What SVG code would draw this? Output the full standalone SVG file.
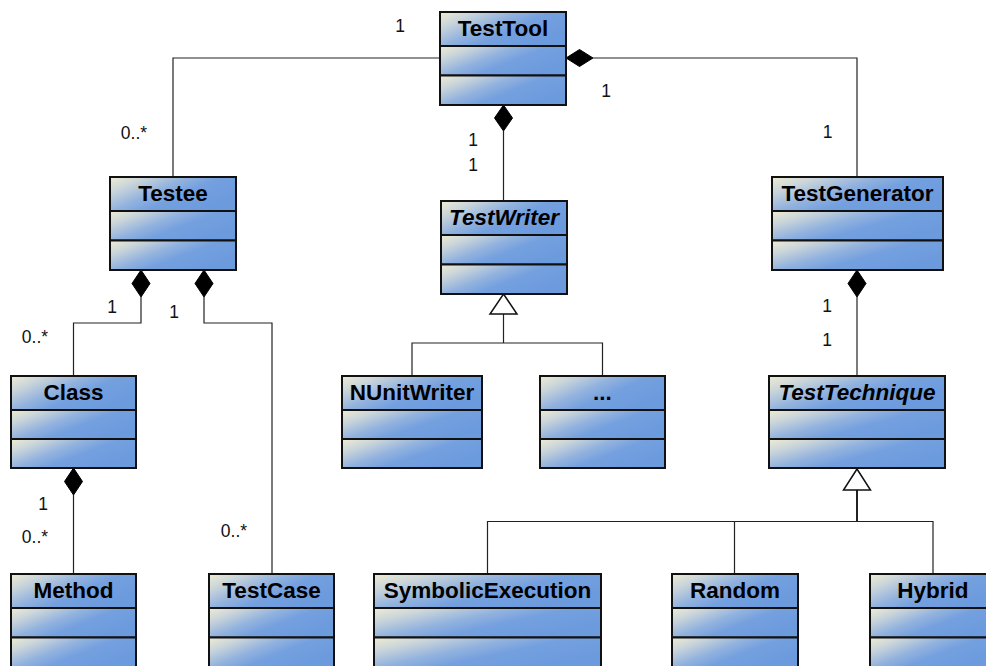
<svg xmlns="http://www.w3.org/2000/svg" width="986" height="666" viewBox="0 0 986 666">
  <defs>
    <linearGradient id="fill" x1="0" y1="0" x2="1" y2="0.6">
      <stop offset="0" stop-color="#eeecd2"/>
      <stop offset="0.2" stop-color="#ccd6da"/>
      <stop offset="0.45" stop-color="#93b3de"/>
      <stop offset="0.65" stop-color="#74a0df"/>
      <stop offset="1" stop-color="#6b9add"/>
    </linearGradient>
  </defs>
  <style>
    .cmp { fill: url(#fill); stroke: #111; stroke-width: 2; }
    .title { font-family: "Liberation Sans", Arial, sans-serif; font-size: 22.5px; font-weight: bold; fill: #000; text-anchor: middle; }
    .abstract { font-style: italic; }
    .mult { font-family: "Liberation Sans", Arial, sans-serif; font-size: 17.5px; fill: #111; text-anchor: middle; }
    .line { fill: none; stroke: #222; stroke-width: 1.2; }
    .thick { stroke-width: 2; }
    .diamond { fill: #000; stroke: #000; stroke-width: 1; }
    .triangle { fill: #fff; stroke: #111; stroke-width: 1.5; }
  </style>
  <rect width="986" height="666" fill="#fff"/>

  <!-- connectors -->
  <g id="connectors">
    <!-- TestTool - Testee association -->
    <polyline class="line" points="440,58 173,58 173,177"/>
    <!-- TestTool composes TestGenerator -->
    <polyline class="line" points="593,58 857,58 857,177"/>
    <polygon class="diamond" points="566,58 579.5,49.5 593,58 579.5,66.5"/>
    <!-- TestTool composes TestWriter -->
    <line class="line" x1="503.5" y1="131" x2="503.5" y2="201"/>
    <polygon class="diamond" points="503.5,105 512.5,118 503.5,131 494.5,118"/>
    <!-- Testee composes Class -->
    <polyline class="line" points="141,297 141,323 73.5,323 73.5,376"/>
    <polygon class="diamond" points="141,270 150,283.5 141,297 132,283.5"/>
    <!-- Testee composes TestCase -->
    <polyline class="line" points="204,297 204,323 272,323 272,574"/>
    <polygon class="diamond" points="204,270 213,283.5 204,297 195,283.5"/>
    <!-- Class composes Method -->
    <line class="line" x1="73.5" y1="495" x2="73.5" y2="574"/>
    <polygon class="diamond" points="73.5,468 82.5,481.5 73.5,495 64.5,481.5"/>
    <!-- TestGenerator composes TestTechnique -->
    <line class="line" x1="857" y1="297" x2="857" y2="376"/>
    <polygon class="diamond" points="857,270 866,283.5 857,297 848,283.5"/>
    <!-- TestWriter generalization -->
    <line class="line" x1="503.5" y1="314" x2="503.5" y2="343"/>
    <polyline class="line" points="412,376 412,343 602.5,343 602.5,376"/>
    <polygon class="triangle" points="503.5,294 517,314 490,314"/>
    <!-- TestTechnique generalization -->
    <line class="line thick" x1="857" y1="490" x2="857" y2="521.5"/>
    <polyline class="line" points="487.5,574 487.5,521.5 933,521.5 933,574"/>
    <line class="line" x1="734.5" y1="521.5" x2="734.5" y2="574"/>
    <polygon class="triangle" points="857,469 870.5,490 843.5,490"/>
  </g>

  <!-- multiplicities -->
  <g id="multiplicities">
    <text class="mult" x="400" y="32">1</text>
    <text class="mult" x="606" y="97">1</text>
    <text class="mult" x="134" y="139">0..*</text>
    <text class="mult" x="473" y="146">1</text>
    <text class="mult" x="473" y="171">1</text>
    <text class="mult" x="827.5" y="138">1</text>
    <text class="mult" x="112" y="313">1</text>
    <text class="mult" x="174" y="318">1</text>
    <text class="mult" x="35" y="343">0..*</text>
    <text class="mult" x="827" y="312">1</text>
    <text class="mult" x="827" y="346">1</text>
    <text class="mult" x="43" y="510">1</text>
    <text class="mult" x="35" y="543">0..*</text>
    <text class="mult" x="234" y="537">0..*</text>
  </g>

  <!-- classes: title / attributes / operations -->
  <g id="TestTool">
    <rect class="cmp" x="440" y="12" width="126" height="34"/>
    <rect class="cmp" x="440" y="46" width="126" height="29.5"/>
    <rect class="cmp" x="440" y="75.5" width="126" height="29.5"/>
    <text class="title" x="503" y="35.5">TestTool</text>
  </g>
  <g id="Testee">
    <rect class="cmp" x="110" y="177" width="126" height="34"/>
    <rect class="cmp" x="110" y="211" width="126" height="29.5"/>
    <rect class="cmp" x="110" y="240.5" width="126" height="29.5"/>
    <text class="title" x="173" y="200.5">Testee</text>
  </g>
  <g id="TestWriter">
    <rect class="cmp" x="441" y="201" width="126" height="34"/>
    <rect class="cmp" x="441" y="235" width="126" height="29.5"/>
    <rect class="cmp" x="441" y="264.5" width="126" height="29.5"/>
    <text class="title abstract" x="504" y="224.5">TestWriter</text>
  </g>
  <g id="TestGenerator">
    <rect class="cmp" x="772" y="177" width="171" height="34"/>
    <rect class="cmp" x="772" y="211" width="171" height="29.5"/>
    <rect class="cmp" x="772" y="240.5" width="171" height="29.5"/>
    <text class="title" x="857.5" y="200.5">TestGenerator</text>
  </g>
  <g id="Class">
    <rect class="cmp" x="11" y="376" width="125" height="34"/>
    <rect class="cmp" x="11" y="410" width="125" height="29"/>
    <rect class="cmp" x="11" y="439" width="125" height="29"/>
    <text class="title" x="73.5" y="399.5">Class</text>
  </g>
  <g id="NUnitWriter">
    <rect class="cmp" x="342" y="376" width="140" height="34"/>
    <rect class="cmp" x="342" y="410" width="140" height="29"/>
    <rect class="cmp" x="342" y="439" width="140" height="29"/>
    <text class="title" x="412" y="399.5">NUnitWriter</text>
  </g>
  <g id="OtherWriter">
    <rect class="cmp" x="540" y="376" width="125" height="34"/>
    <rect class="cmp" x="540" y="410" width="125" height="29"/>
    <rect class="cmp" x="540" y="439" width="125" height="29"/>
    <text class="title" x="602.5" y="399.5">...</text>
  </g>
  <g id="TestTechnique">
    <rect class="cmp" x="769" y="376" width="176" height="34"/>
    <rect class="cmp" x="769" y="410" width="176" height="29"/>
    <rect class="cmp" x="769" y="439" width="176" height="29"/>
    <text class="title abstract" x="857" y="399.5">TestTechnique</text>
  </g>
  <g id="Method">
    <rect class="cmp" x="11" y="574" width="125" height="34"/>
    <rect class="cmp" x="11" y="608" width="125" height="29.5"/>
    <rect class="cmp" x="11" y="637.5" width="125" height="29.5"/>
    <text class="title" x="73.5" y="597.5">Method</text>
  </g>
  <g id="TestCase">
    <rect class="cmp" x="209" y="574" width="125" height="34"/>
    <rect class="cmp" x="209" y="608" width="125" height="29.5"/>
    <rect class="cmp" x="209" y="637.5" width="125" height="29.5"/>
    <text class="title" x="271.5" y="597.5">TestCase</text>
  </g>
  <g id="SymbolicExecution">
    <rect class="cmp" x="374" y="574" width="227" height="34"/>
    <rect class="cmp" x="374" y="608" width="227" height="29.5"/>
    <rect class="cmp" x="374" y="637.5" width="227" height="29.5"/>
    <text class="title" x="487.5" y="597.5">SymbolicExecution</text>
  </g>
  <g id="Random">
    <rect class="cmp" x="672" y="574" width="126" height="34"/>
    <rect class="cmp" x="672" y="608" width="126" height="29.5"/>
    <rect class="cmp" x="672" y="637.5" width="126" height="29.5"/>
    <text class="title" x="735" y="597.5">Random</text>
  </g>
  <g id="Hybrid">
    <rect class="cmp" x="870" y="574" width="126" height="34"/>
    <rect class="cmp" x="870" y="608" width="126" height="29.5"/>
    <rect class="cmp" x="870" y="637.5" width="126" height="29.5"/>
    <text class="title" x="933" y="597.5">Hybrid</text>
  </g>
</svg>
